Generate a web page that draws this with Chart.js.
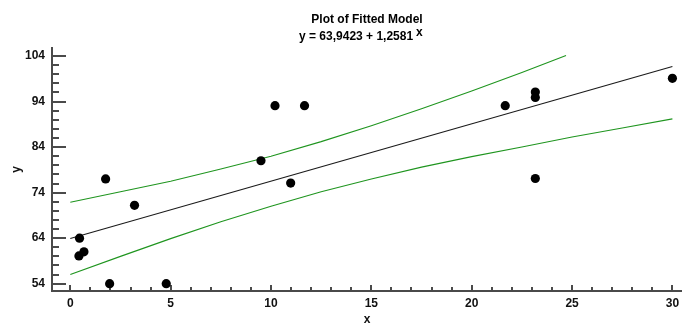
<!DOCTYPE html>
<html><head><meta charset="utf-8">
<script src="https://cdn.jsdelivr.net/npm/chart.js@4"></script>
<style>html,body{margin:0;padding:0;background:#fff}canvas{display:block}</style>
</head><body>
<canvas id="c" width="682" height="327"></canvas>
<script>
const titleText = 'Plot of Fitted Model';
const formulaText = 'y = 63,9423 + 1,2581';
const formulaVar = 'x';
const xAxisTitle = 'x';
const yAxisTitle = 'y';

// observations
const xObs = [0.46, 0.43, 0.68, 1.76, 1.96, 3.2, 4.78, 9.5, 10.2, 10.98, 11.67, 21.67, 23.17, 23.17, 23.17, 30.0];
const yObs = [64.0, 60.1, 61.0, 77.0, 54.0, 71.2, 54.0, 81.0, 93.1, 76.1, 93.1, 93.1, 96.1, 94.9, 77.1, 99.1];

// fitted line
const fitX = [0, 30];
const fitY = [63.94, 101.69];

// confidence limits
const upperX = [0, 2.5, 5, 7.5, 10, 12.5, 15, 17.5, 20, 22.5, 24.7];
const upperY = [71.9, 74.2, 76.5, 79.2, 82.0, 85.2, 88.7, 92.4, 96.3, 100.4, 104.1];
const lowerX = [0, 2.5, 5, 7.5, 10, 12.5, 15, 17.5, 20, 22.5, 25, 27.5, 30];
const lowerY = [56.0, 60.0, 63.9, 67.6, 71.0, 74.2, 77.0, 79.6, 81.9, 84.0, 86.2, 88.2, 90.2];

// axis ticks
const xTicks = [0, 5, 10, 15, 20, 25, 30];
const yTicks = [54, 64, 74, 84, 94, 104];
const xMinorStep = 1;
const yMinorStep = 2;

const FAMILY = '"Liberation Sans", Arial, sans-serif';
const pts = (xs, ys) => xs.map((v, i) => ({x: v, y: ys[i]}));

const tickMarks = {
  id: 'tickMarks',
  beforeDatasetsDraw(chart) {
    const {ctx, chartArea: a, scales: {x, y}} = chart;
    ctx.save();
    ctx.strokeStyle = '#4a4a4a';
    ctx.lineWidth = 2;
    ctx.beginPath();
    const y0 = yTicks[0], y1 = yTicks[yTicks.length - 1];
    for (let v = y0; v <= y1 + 1e-9; v += yMinorStep) {
      const p = Math.round(y.getPixelForValue(v));
      const major = yTicks.includes(v);
      ctx.moveTo(a.left, p);
      ctx.lineTo(a.left + (major ? 14 : 7), p);
    }
    const x0 = xTicks[0], x1 = xTicks[xTicks.length - 1];
    for (let v = x0; v <= x1 + 1e-9; v += xMinorStep) {
      const p = Math.round(x.getPixelForValue(v));
      const major = xTicks.includes(v);
      ctx.moveTo(p, a.bottom);
      ctx.lineTo(p, a.bottom - (major ? 6 : 4));
    }
    ctx.stroke();
    ctx.restore();
  },
  afterDraw(chart) {
    const ctx = chart.ctx;
    ctx.save();
    ctx.fillStyle = '#000';
    ctx.font = 'bold 12px ' + FAMILY;
    ctx.textAlign = 'left';
    ctx.textBaseline = 'alphabetic';
    ctx.fillText(formulaText, 299, 40);
    ctx.fillText(formulaVar, 416, 36);
    ctx.restore();
  }
};

new Chart(document.getElementById('c'), {
  type: 'scatter',
  data: {
    datasets: [
      {data: pts(xObs, yObs), backgroundColor: '#000', borderWidth: 0, pointRadius: 4.6, pointHoverRadius: 4.6},
      {data: pts(fitX, fitY), showLine: true, borderColor: '#1a1a1a', borderWidth: 1.1, pointRadius: 0},
      {data: pts(upperX, upperY), showLine: true, borderColor: '#1f951f', borderWidth: 1.1, pointRadius: 0},
      {data: pts(lowerX, lowerY), showLine: true, borderColor: '#1f951f', borderWidth: 1.1, pointRadius: 0}
    ]
  },
  options: {
    responsive: false,
    animation: false,
    layout: {padding: 0, autoPadding: false},
    plugins: {
      legend: {display: false},
      tooltip: {enabled: false},
      title: {display: true, text: titleText, fullSize: false, color: '#000',
        font: {size: 12, weight: 'bold', family: FAMILY, lineHeight: 1.2},
        padding: {top: 12, bottom: 21.6}}
    },
    scales: {
      x: {
        type: 'linear', min: -0.912, max: 30.478,
        afterBuildTicks: s => { s.ticks = xTicks.map(v => ({value: v})); },
        afterFit: s => { s.height = 36; s.paddingLeft = 0; s.paddingRight = 0; },
        grid: {display: false, drawTicks: false},
        border: {display: true, color: '#4a4a4a', width: 2},
        ticks: {padding: 5, maxRotation: 0, autoSkip: false, color: '#111',
          font: {size: 12, weight: 'bold', family: FAMILY}},
        title: {display: true, text: xAxisTitle, color: '#111',
          font: {size: 12, weight: 'bold', family: FAMILY}, padding: {top: 0, bottom: 0}}
      },
      y: {
        type: 'linear', min: 52.397, max: 105.757,
        afterBuildTicks: s => { s.ticks = yTicks.map(v => ({value: v})); },
        afterFit: s => { s.width = 52; s.paddingTop = 0; s.paddingBottom = 0; },
        grid: {display: false, drawTicks: false},
        border: {display: true, color: '#4a4a4a', width: 2},
        ticks: {padding: 7, autoSkip: false, color: '#111',
          font: {size: 12, weight: 'bold', family: FAMILY}},
        title: {display: true, text: yAxisTitle, color: '#111',
          font: {size: 12, weight: 'bold', family: FAMILY}, padding: {top: 9.5, bottom: 0}}
      }
    }
  },
  plugins: [tickMarks]
});
</script>
</body></html>
